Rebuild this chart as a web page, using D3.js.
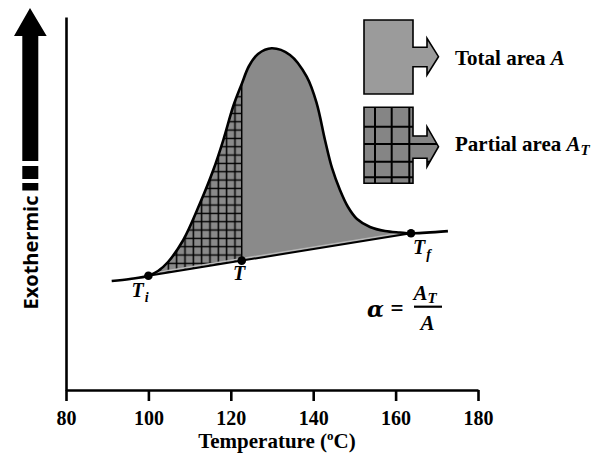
<!DOCTYPE html>
<html>
<head>
<meta charset="utf-8">
<script src="https://cdn.jsdelivr.net/npm/d3@7/dist/d3.min.js"></script>
<style>
  html, body { margin: 0; padding: 0; background: #fff; }
  svg { display: block; }
  .serif { font-family: "Liberation Serif", "Times New Roman", serif; font-weight: bold; }
</style>
</head>
<body>
<svg id="chart" width="601" height="456"></svg>
<script>
// ---- data ----
const temps = [91.09, 95.53, 100, 102.33, 104.76, 108.47, 112.52, 115.75, 118.18, 120.61, 122.65, 124.42, 126.60, 129.93,
               134.37, 138.42, 140.85, 142.86, 144.56, 146.50, 148.45, 150.63, 153.79, 157.43, 161.07, 163.74, 167.5, 172.7];
const heat  = [29.22, 29.76, 30.64, 31.90, 34.32, 40.21, 50.05, 58.98, 67.02, 76.14, 82.04, 86.86, 90.08, 91.61,
               89.81, 84.0, 76.86, 67.02, 59.52, 53.62, 49.06, 45.84, 43.70, 42.63, 42.23, 42.01, 42.2, 42.6];
const tempTicks = [80, 100, 120, 140, 160, 180];
const Ti = 100, Tcur = 122.65, Tf = 163.74;
const pointLabels = ["T", "T", "T"];
const pointSubs = ["i", "", "f"];

// ---- scales ----
const svg = d3.select("#chart");
const x = d3.scaleLinear().domain([80, 180]).range([66, 478]);
const y = d3.scaleLinear().domain([0, 100]).range([390, 17]);

const pts = temps.map((t, i) => ({t, v: heat[i]}));
const vTi = heat[temps.indexOf(Ti)];
const vTf = heat[temps.indexOf(Tf)];
const base = t => vTi + (t - Ti) * (vTf - vTi) / (Tf - Ti);
const vTop = heat[temps.indexOf(Tcur)];

const defs = svg.append("defs");
defs.append("clipPath").attr("id", "clipTotal").append("rect")
  .attr("x", x(Ti)).attr("y", 0).attr("width", x(Tf) - x(Ti)).attr("height", 456);
defs.append("clipPath").attr("id", "clipPart").append("rect")
  .attr("x", x(Ti)).attr("y", 0).attr("width", x(Tcur) - x(Ti)).attr("height", 456);

const hs = 8.33;
const pat = defs.append("pattern").attr("id", "hatch").attr("patternUnits", "userSpaceOnUse")
  .attr("x", 185 - hs / 2).attr("y", 246.7 - hs / 2).attr("width", hs).attr("height", hs);
pat.append("path").attr("d", `M${hs/2},0V${hs}M0,${hs/2}H${hs}`)
  .attr("stroke", "#000").attr("stroke-width", 1.5).attr("fill", "none");

// ---- area ----
const area = d3.area().x(d => x(d.t)).y0(d => y(base(d.t))).y1(d => y(d.v)).curve(d3.curveCatmullRom.alpha(0.5));
svg.append("path").datum(pts).attr("d", area).attr("fill", "#8a8a8a").attr("clip-path", "url(#clipTotal)");
svg.append("path").datum(pts).attr("d", area).attr("fill", "url(#hatch)").attr("clip-path", "url(#clipPart)");

// light edge along fill bottom
svg.append("line").attr("x1", x(Ti)).attr("x2", x(Tf) - 10)
  .attr("y1", y(base(Ti)) - 2).attr("y2", y(base(Tf - 2.4)) - 2)
  .attr("stroke", "#b8b8b8").attr("stroke-width", 1.5);

// vertical line at T
svg.append("line").attr("x1", x(Tcur)).attr("x2", x(Tcur))
  .attr("y1", y(base(Tcur))).attr("y2", y(vTop))
  .attr("stroke", "#000").attr("stroke-width", 1.5);

// baseline
svg.append("line").attr("x1", x(Ti)).attr("x2", x(Tf))
  .attr("y1", y(base(Ti))).attr("y2", y(base(Tf)))
  .attr("stroke", "#000").attr("stroke-width", 2);

// curve
const line = d3.line().x(d => x(d.t)).y(d => y(d.v)).curve(d3.curveCatmullRom.alpha(0.5));
svg.append("path").datum(pts).attr("d", line).attr("fill", "none")
  .attr("stroke", "#000").attr("stroke-width", 2.6);

// dots
const dotTemps = [Ti, Tcur, Tf];
svg.selectAll("circle.dot").data(dotTemps).join("circle").attr("class", "dot")
  .attr("cx", d => x(d)).attr("cy", d => y(base(d))).attr("r", 4.3).attr("fill", "#000");

// labels for points
const lblPos = [[131.5, 297], [233, 279.5], [413, 253.5]];
lblPos.forEach((p, i) => {
  const t = svg.append("text").attr("class", "serif").attr("x", p[0]).attr("y", p[1])
    .attr("font-size", 20).attr("font-style", "italic");
  t.append("tspan").text(pointLabels[i]);
  if (pointSubs[i]) t.append("tspan").attr("font-size", 14).attr("dy", 5).attr("dx", 1).text(pointSubs[i]);
});

// ---- axes ----
const xAxis = svg.append("g").attr("transform", `translate(0,${y(0)})`)
  .call(d3.axisBottom(x).tickValues(tempTicks).tickSize(11).tickSizeOuter(0).tickFormat(d3.format("d")));
xAxis.select(".domain").attr("stroke-width", 2.6).attr("stroke", "#000");
xAxis.selectAll(".tick line").attr("stroke-width", 2.6).attr("stroke", "#000");
xAxis.selectAll(".tick text").attr("class", "serif").attr("font-size", 20).attr("fill", "#000")
  .attr("y", 35).attr("dy", 0);

const yAxis = svg.append("g").attr("transform", `translate(${x(80)},0)`)
  .call(d3.axisLeft(y).tickValues([]).tickSizeOuter(0));
yAxis.select(".domain").attr("stroke-width", 2.6).attr("stroke", "#000");

svg.append("text").attr("class", "serif").attr("x", 277).attr("y", 448).attr("text-anchor", "middle")
  .attr("font-size", 21).attr("fill", "#000")
  .html('Temperature (<tspan font-size="13" dy="-8">o</tspan><tspan dy="8">C)</tspan>');

// ---- exothermic arrow ----
svg.append("path").attr("d", "M30,8 L46.7,36 L38.3,36 L38.3,161 L22.3,161 L22.3,36 L14,36 Z").attr("fill", "#000");
svg.append("rect").attr("x", 22.3).attr("y", 166).attr("width", 16).attr("height", 13).attr("fill", "#000");
svg.append("rect").attr("x", 22.3).attr("y", 183).attr("width", 16).attr("height", 7.5).attr("fill", "#000");
svg.append("text").attr("transform", "translate(38,252.5) rotate(-90)").attr("text-anchor", "middle")
  .attr("font-family", "'Open Sans', sans-serif").attr("font-weight", "bold").attr("font-size", 20)
  .attr("fill", "#000").text("Exothermic");

// ---- legend ----
const arrowBox = (x0, x1, y0, y1, s0, s1, h0, h1, tip) =>
  `M${x0},${y0}H${x1}V${s0}H427V${h0}L${tip},${(h0 + h1) / 2}L427,${h1}V${s1}H${x1}V${y1}H${x0}Z`;
const box1 = arrowBox(364, 413, 20, 94, 47.3, 66.7, 38.3, 75, 438.5);
const box2 = arrowBox(364, 413, 107.3, 183.3, 136, 158.3, 126.7, 166.7, 438.5);
svg.append("path").attr("d", box1).attr("fill", "#9b9b9b").attr("stroke", "#000").attr("stroke-width", 1.6);
defs.append("clipPath").attr("id", "clipBox2").append("path").attr("d", box2);
svg.append("path").attr("d", box2).attr("fill", "#858585");
const g2 = svg.append("g").attr("clip-path", "url(#clipBox2)");
[126.7, 144, 161.7, 177.3].forEach(yy => g2.append("line").attr("x1", 360).attr("x2", 445)
  .attr("y1", yy).attr("y2", yy).attr("stroke", "#000").attr("stroke-width", 2));
[375, 391.7, 409.3].forEach(xx => g2.append("line").attr("x1", xx).attr("x2", xx)
  .attr("y1", 100).attr("y2", 190).attr("stroke", "#000").attr("stroke-width", 2));
svg.append("path").attr("d", box2).attr("fill", "none").attr("stroke", "#000").attr("stroke-width", 1.6);

svg.append("text").attr("class", "serif").attr("x", 455).attr("y", 65).attr("font-size", 21)
  .html('Total area <tspan font-style="italic">A</tspan>');
svg.append("text").attr("class", "serif").attr("x", 455).attr("y", 151).attr("font-size", 21)
  .html('Partial area <tspan font-style="italic">A</tspan><tspan font-style="italic" font-size="15" dy="4">T</tspan>');

// ---- formula ----
const fm = svg.append("g").attr("class", "serif").attr("font-style", "italic");
fm.append("text").attr("x", 367).attr("y", 317).attr("font-size", 22)
  .attr("font-family", "'DejaVu Serif', serif").text("α");
fm.append("text").attr("x", 390.5).attr("y", 315.5).attr("font-size", 23).attr("font-style", "normal").text("=");
fm.append("line").attr("x1", 414).attr("x2", 442).attr("y1", 306.7).attr("y2", 306.7)
  .attr("stroke", "#000").attr("stroke-width", 2.2);
const num = fm.append("text").attr("x", 413.5).attr("y", 300).attr("font-size", 21);
num.append("tspan").text("A");
num.append("tspan").attr("font-size", 15).attr("dy", 3).text("T");
fm.append("text").attr("x", 427.5).attr("y", 330).attr("font-size", 21).attr("text-anchor", "middle").text("A");
</script>
</body>
</html>
